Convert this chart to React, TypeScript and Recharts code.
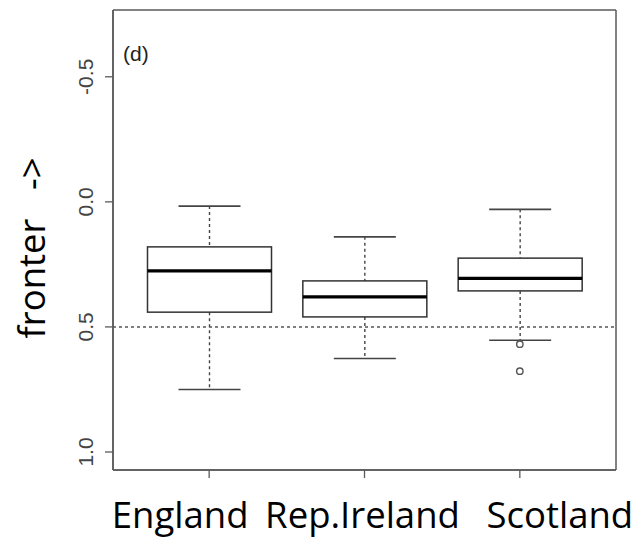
import React from 'react';
import { ComposedChart, Bar, Scatter, XAxis, YAxis, ReferenceLine, CartesianGrid } from 'recharts';

// Box-plot summaries per region (y axis is reversed: smaller values sit higher)
const categories = ['England', 'Rep.Ireland', 'Scotland'];
const whiskerTop = [0.017, 0.14, 0.03];
const lowerHinge = [0.18, 0.316, 0.225];
const medians = [0.276, 0.38, 0.306];
const upperHinge = [0.441, 0.46, 0.356];
const whiskerBottom = [0.75, 0.626, 0.553];

// Individual outlying points
const outlierGroups = ['Scotland', 'Scotland'];
const outlierValues = [0.569, 0.677];

const yTicks = [-0.5, 0, 0.5, 1.0];
const yDomain: [number, number] = [-0.767, 1.072];
const referenceValue = 0.5;

const boxData = categories.map((name, i) => ({
  name,
  lo: whiskerTop[i],
  q1: lowerHinge[i],
  med: medians[i],
  q3: upperHinge[i],
  hi: whiskerBottom[i],
}));

const outlierData = outlierGroups.map((name, i) => ({ name, v: outlierValues[i] }));

// horizontal nudges of the category captions
const captionShift: Record<string, number> = {
  England: -29,
  'Rep.Ireland': -2,
  Scotland: 40,
};

const FRAME = '#5a5a5a';

function BoxShape(props: any) {
  const { x, y, width, height } = props;
  const p = props.payload ?? props;
  const { lo, q1, med, q3, hi } = p;
  // bar spans [lo, hi]; map interior statistics within the same pixel span
  const py = (v: number) => y + (height * (hi - v)) / (hi - lo);
  const cx = x + width / 2;
  const capHalf = width / 4;
  const yA = py(q1);
  const yB = py(q3);
  const top = Math.min(yA, yB);
  const bottom = Math.max(yA, yB);
  return (
    <g>
      <line x1={cx} x2={cx} y1={py(lo)} y2={yA} stroke="#444" strokeWidth={1.4} strokeDasharray="3 3" />
      <line x1={cx} x2={cx} y1={yB} y2={py(hi)} stroke="#444" strokeWidth={1.4} strokeDasharray="3 3" />
      <line x1={cx - capHalf} x2={cx + capHalf} y1={py(lo)} y2={py(lo)} stroke="#444" strokeWidth={1.6} />
      <line x1={cx - capHalf} x2={cx + capHalf} y1={py(hi)} y2={py(hi)} stroke="#444" strokeWidth={1.6} />
      <rect x={x} y={top} width={width} height={bottom - top} fill="#fff" stroke="#333" strokeWidth={1.5} />
      <line x1={x} x2={x + width} y1={py(med)} y2={py(med)} stroke="#000" strokeWidth={3.4} />
    </g>
  );
}

function OutlierShape(props: any) {
  const { cx, cy } = props;
  return <circle cx={cx} cy={cy} r={3.2} fill="none" stroke="#555" strokeWidth={1.4} />;
}

function YTick(props: any) {
  const { x, y, payload } = props;
  const bx = x - 12;
  return (
    <text
      x={bx}
      y={y}
      transform={`rotate(-90, ${bx}, ${y})`}
      textAnchor="middle"
      fontFamily="'Liberation Sans', Arial, sans-serif"
      fontSize={21}
      fill="#444"
    >
      {Number(payload.value).toFixed(1)}
    </text>
  );
}

function XTick(props: any) {
  const { x, y, payload } = props;
  const name = String(payload.value);
  return (
    <text
      x={x + (captionShift[name] ?? 0)}
      y={y + 50}
      textAnchor="middle"
      fontFamily="'Open Sans', sans-serif"
      fontSize={36.5}
      fill="#000"
    >
      {name}
    </text>
  );
}

function YLabel(props: any) {
  const vb = props.viewBox || { x: 0, y: 10, width: 113, height: 460 };
  const bx = vb.x + 45;
  const cy = vb.y + vb.height / 2 + 8;
  return (
    <g>
      <text
        x={bx}
        y={cy}
        transform={`rotate(-90, ${bx}, ${cy})`}
        textAnchor="middle"
        fontFamily="'Open Sans', sans-serif"
        fontSize={36.5}
        fill="#000"
        style={{ whiteSpace: 'pre' }}
      >
        {'fronter   ->'}
      </text>
      <text
        x={vb.x + vb.width + 10}
        y={vb.y + 51}
        fontFamily="'Liberation Sans', Arial, sans-serif"
        fontSize={21}
        fill="#222"
      >
        (d)
      </text>
    </g>
  );
}

// frame lines on the four edges of the plotting region
const edgeRows = ({ offset }: any) => [offset.top, offset.top + offset.height];
const edgeCols = ({ offset }: any) => [offset.left, offset.left + offset.width];

export default function App() {
  return (
    <div style={{ position: 'absolute', left: 0, top: 0, width: 638, height: 540, background: '#fff' }}>
      <ComposedChart
        width={638}
        height={540}
        data={boxData}
        margin={{ top: 10, right: 22, bottom: 0, left: 0 }}
      >
        <CartesianGrid
          stroke={FRAME}
          strokeWidth={1.5}
          horizontalCoordinatesGenerator={edgeRows}
          verticalCoordinatesGenerator={edgeCols}
        />
        <XAxis
          dataKey="name"
          type="category"
          allowDuplicatedCategory={false}
          padding={{ left: 18.5, right: 18.5 }}
          height={70}
          tickSize={8}
          tickMargin={0}
          axisLine={{ stroke: FRAME, strokeWidth: 1.5 }}
          tickLine={{ stroke: FRAME, strokeWidth: 1.3 }}
          tick={<XTick />}
          interval={0}
        />
        <YAxis
          type="number"
          reversed
          domain={yDomain}
          ticks={yTicks}
          allowDataOverflow
          width={113}
          tickSize={8}
          tickMargin={0}
          axisLine={{ stroke: FRAME, strokeWidth: 1.5 }}
          tickLine={{ stroke: FRAME, strokeWidth: 1.3 }}
          tick={<YTick />}
          interval={0}
          label={<YLabel />}
        />
        <ReferenceLine y={referenceValue} stroke="#555" strokeWidth={1.5} strokeDasharray="3 3" />
        <Bar
          dataKey={(d: any) => [d.lo, d.hi]}
          barSize={124}
          shape={<BoxShape />}
          isAnimationActive={false}
        />
        <Scatter
          data={outlierData}
          dataKey="v"
          shape={<OutlierShape />}
          isAnimationActive={false}
        />
      </ComposedChart>
    </div>
  );
}
